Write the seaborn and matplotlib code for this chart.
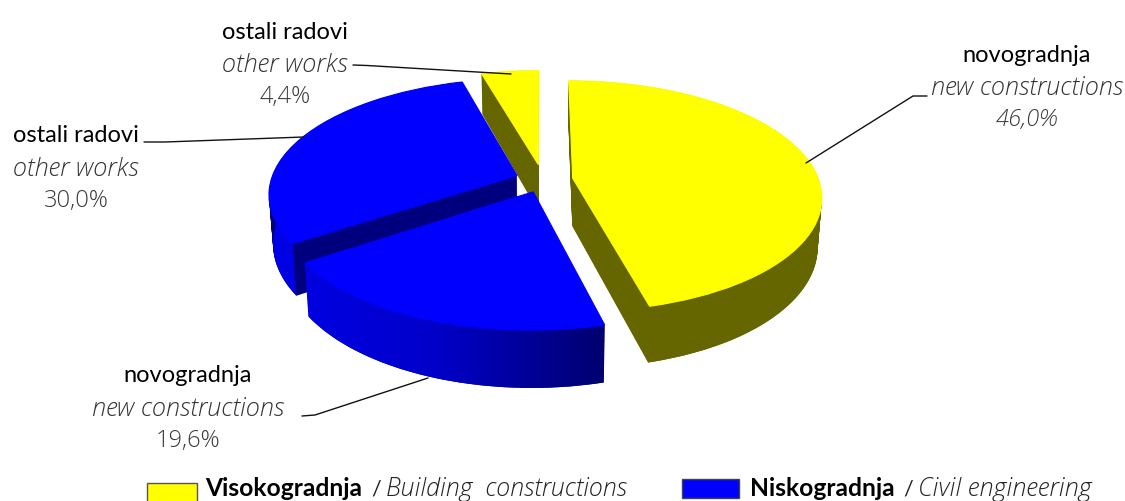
# -*- coding:utf-8 -*-

import numpy as np
import seaborn as sns
import matplotlib
matplotlib.use("Agg")
import matplotlib.pyplot as plt
from matplotlib.path import Path
from matplotlib.patches import Rectangle
from matplotlib.transforms import Transform

# clockwise from the top
shares = [46.0, 19.6, 30.0, 4.4]
names = ["novogradnja", "novogradnja", "ostali radovi", "ostali radovi"]
names_en = ["new constructions", "new constructions", "other works", "other works"]
groups = ["Visokogradnja", "Niskogradnja"]
groups_en = ["Building  constructions", "Civil engineering"]

explode = [0.122, 0.11, 0.113, 0.14]
top_cols = ["#ffff00", "#0000ff", "#0000ff", "#ffff00"]
cut_cols = ["#666600", "#00007f", "#00007f", "#666600"]
draw_order = [1, 3, 2, 0]  # back to front: small yellow, big yellow, blue 30, blue 19.6

DEPTH = 48


class Tilt(Transform):
    # unit pie -> pixels, with perspective, dz pixels under the top face
    input_dims = 2
    output_dims = 2

    def __init__(self, dz=0):
        super().__init__()
        self.dz = dz

    def transform_non_affine(self, values):
        x, y = np.asarray(values).T
        f = 1 / (1 + 0.154 * y)
        shrink = 1 - 0.015 * self.dz / DEPTH
        return np.column_stack([543 + x * 246 * f * shrink, 180 - y * 113 * f + self.dz * f])


sns.set_theme(style="white")
plt.rcParams["font.family"] = ["Lato", "DejaVu Sans"]

blue_side = sns.blend_palette(["#0000e8", "#0000c8", "#00006e"], as_cmap=True)
yellow_side = sns.blend_palette(["#666600", "#666600"], as_cmap=True)
side_maps = [(yellow_side, 570, 820), (blue_side, 270, 606), (blue_side, 270, 606), (yellow_side, 480, 545)]

fig = plt.figure(figsize=(11.25, 5.01), dpi=100)
ax = fig.add_axes([0, 0, 1, 1])

# side stack, bottom layer first
for dz in range(DEPTH, -1, -1):
    wedges, _ = ax.pie(shares, explode=explode, startangle=90, counterclock=False,
                       colors=top_cols if dz == 0 else cut_cols)
    for i, w in enumerate(wedges):
        if dz == 0:
            w.set_edgecolor(top_cols[i])
            w.set_linewidth(0.8)
        else:
            w.set_linewidth(0)
        w.set_transform(Tilt(dz) + ax.transData)
        w.set_zorder(draw_order[i] * 1000 + (DEPTH - dz) + (2 if dz == 0 else 0))

# shaded outer rim
for i, w in enumerate(wedges):
    th = np.radians(np.linspace(w.theta1, w.theta2, 120))
    rim = np.column_stack([w.center[0] + np.cos(th), w.center[1] + np.sin(th)])
    upper = Tilt(0).transform(rim)
    lower = Tilt(DEPTH).transform(rim)[::-1]
    poly = np.vstack([upper, lower, upper[:1]])
    cmap, x0, x1 = side_maps[i]
    im = ax.imshow(np.linspace(0, 1, 256)[None, :], cmap=cmap, aspect="auto",
                   extent=(x0, x1, 501, 0), zorder=draw_order[i] * 1000 + DEPTH + 1)
    im.set_clip_path(Path(poly), ax.transData)

ax.set_aspect("auto")
ax.set_xlim(0, 1125)
ax.set_ylim(501, 0)
ax.axis("off")

# leader lines
leaders = [([806, 913, 927], [163, 96, 96]),
           ([302, 315, 428], [416, 415, 378]),
           ([144, 165, 304], [142, 142, 137]),
           ([353, 367, 511], [65, 65.5, 74])]
for lx, ly in leaders:
    ax.plot(lx, ly, color="#111111", lw=1, zorder=9000)

# labels
LIGHT = ["Open Sans", "DejaVu Sans"]
spots = [(1027, 55), (188, 376), (76, 136), (285, 32)]
for i in range(len(shares)):
    cx, cy = spots[i]
    pct = f"{shares[i]:.1f}%".replace(".", ",")
    ax.text(cx, cy, names[i], ha="center", va="center", fontsize=17, color="black", zorder=9001)
    ax.text(cx, cy + 33, names_en[i], ha="center", va="center", fontsize=18.3, style="italic",
            family=LIGHT, fontweight="light", color="#333333", zorder=9001)
    ax.text(cx, cy + 65, pct, ha="center", va="center", fontsize=17,
            style="italic" if i == 0 else "normal", family=LIGHT, fontweight="light",
            color="#3a3a3a", zorder=9001)

# legend
ax.add_patch(Rectangle((147, 483), 50, 20, fc="#ffff00", ec="#555555", lw=1, zorder=9000))
ax.add_patch(Rectangle((682, 479), 57, 19, fc="#0000ff", ec="#444444", lw=1, zorder=9000))
ax.text(205, 496, groups[0], fontsize=17.7, fontweight="bold", color="black", zorder=9001)
ax.text(371, 496, "/", fontsize=15.5, color="#222222", zorder=9001)
ax.text(386, 496, groups_en[0], fontsize=18, style="italic", family=LIGHT, fontweight="light",
        color="#222222", zorder=9001)
ax.text(750, 496, groups[1], fontsize=17.7, fontweight="bold", color="black", zorder=9001)
ax.text(903, 496, "/", fontsize=15.5, color="#222222", zorder=9001)
ax.text(918, 496, groups_en[1], fontsize=18.3, style="italic", family=LIGHT, fontweight="light",
        color="#222222", zorder=9001)

fig.savefig("out.png", dpi=100)
